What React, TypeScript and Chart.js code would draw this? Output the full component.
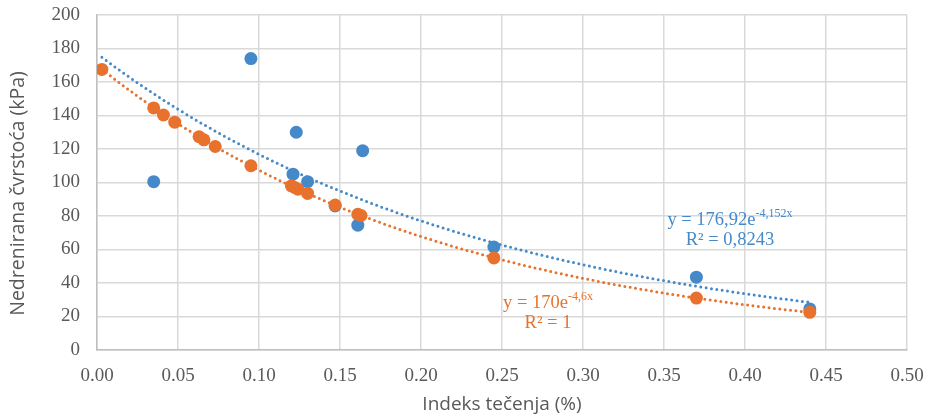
import React, { useEffect, useRef } from "react";
import { Chart, registerables } from "chart.js";

Chart.register(...registerables);

// Series 1 (blue) – measured points
const blueX = [0.035, 0.095, 0.121, 0.123, 0.13, 0.147, 0.161, 0.164, 0.245, 0.37, 0.44];
const blueY = [100.5, 174, 105, 130, 100.5, 86, 74.5, 119, 61.5, 43.5, 24.5];

// Series 2 (orange)
const orangeX = [0.003, 0.035, 0.041, 0.048, 0.063, 0.066, 0.073, 0.095, 0.12, 0.122, 0.124, 0.13, 0.147, 0.161, 0.163, 0.245, 0.37, 0.44];
const orangeY = [167.5, 144.5, 140.3, 136, 127.3, 125.5, 121.5, 110, 98, 97, 96, 93.5, 86.5, 81, 80.3, 55, 31, 22.5];

// Trendline equations (as printed on the chart)
const blueFitA = 176.92;
const blueFitB = -4.152;
const orangeFitA = 170;
const orangeFitB = -4.6;
const trendStart = 0.003;
const trendEnd = 0.44;

const xTicks = [0, 0.05, 0.1, 0.15, 0.2, 0.25, 0.3, 0.35, 0.4, 0.45, 0.5];
const yTicks = [0, 20, 40, 60, 80, 100, 120, 140, 160, 180, 200];

const xTitle = "Indeks tečenja (%)";
const yTitle = "Nedrenirana čvrstoća (kPa)";

const BLUE = "#4589c9";
const ORANGE = "#e8722d";
const AXIS_TEXT = "#595959";

function trend(a: number, b: number) {
  const pts: { x: number; y: number }[] = [];
  const n = 120;
  for (let i = 0; i <= n; i++) {
    const x = trendStart + ((trendEnd - trendStart) * i) / n;
    pts.push({ x, y: a * Math.exp(b * x) });
  }
  return pts;
}

const labels = [
  { color: BLUE, x: 0.3907, y1: 77.6, y2: 65.5, base: "y = 176,92e", sup: "-4,152x", r2: "R² = 0,8243" },
  { color: ORANGE, x: 0.2784, y1: 28, y2: 16, base: "y = 170e", sup: "-4,6x", r2: "R² = 1" },
];

const labelPlugin = {
  id: "eqLabels",
  afterDatasetsDraw(chart: any) {
    const { ctx, scales } = chart;
    ctx.save();
    ctx.textBaseline = "middle";
    for (const l of labels) {
      const cx = scales.x.getPixelForValue(l.x);
      const py1 = scales.y.getPixelForValue(l.y1);
      const py2 = scales.y.getPixelForValue(l.y2);
      ctx.fillStyle = l.color;
      const baseFont = '18.5px "Liberation Serif"';
      const supFont = '12px "Liberation Serif"';
      ctx.font = baseFont;
      const wb = ctx.measureText(l.base).width;
      ctx.font = supFont;
      const ws = ctx.measureText(l.sup).width;
      const start = cx - (wb + ws) / 2;
      ctx.textAlign = "left";
      ctx.font = baseFont;
      ctx.fillText(l.base, start, py1);
      ctx.font = supFont;
      ctx.fillText(l.sup, start + wb, py1 - 6);
      ctx.font = baseFont;
      ctx.textAlign = "center";
      ctx.fillText(l.r2, cx, py2);
    }
    ctx.restore();
  },
  afterDraw(chart: any) {
    const { ctx, chartArea } = chart;
    ctx.save();
    ctx.fillStyle = AXIS_TEXT;
    ctx.textAlign = "center";
    ctx.textBaseline = "middle";
    ctx.font = '19px "Open Sans"';
    ctx.fillText(xTitle, (chartArea.left + chartArea.right) / 2, 405);
    ctx.translate(18, (chartArea.top + chartArea.bottom) / 2 + 11);
    ctx.rotate(-Math.PI / 2);
    ctx.font = '19.5px "Open Sans"';
    ctx.fillText(yTitle, 0, 0);
    ctx.restore();
  },
};

export default function App() {
  const ref = useRef<HTMLCanvasElement | null>(null);
  useEffect(() => {
    document.body.style.margin = "0";
    if (!ref.current) return;
    const chart = new Chart(ref.current, {
      type: "scatter",
      data: {
        datasets: [
          {
            label: "orange",
            data: orangeX.map((x, i) => ({ x, y: orangeY[i] })),
            backgroundColor: ORANGE,
            borderColor: ORANGE,
            pointRadius: 6.5,
            borderWidth: 0,
          },
          {
            label: "blue",
            data: blueX.map((x, i) => ({ x, y: blueY[i] })),
            backgroundColor: BLUE,
            borderColor: BLUE,
            pointRadius: 6.5,
            borderWidth: 0,
          },
          {
            type: "line",
            label: "orangeTrend",
            data: trend(orangeFitA, orangeFitB),
            borderColor: ORANGE,
            borderWidth: 3,
            borderDash: [0, 5.4],
            borderCapStyle: "round",
            pointRadius: 0,
            fill: false,
            tension: 0,
          },
          {
            type: "line",
            label: "blueTrend",
            data: trend(blueFitA, blueFitB),
            borderColor: BLUE,
            borderWidth: 3,
            borderDash: [0, 5.4],
            borderCapStyle: "round",
            pointRadius: 0,
            fill: false,
            tension: 0,
          },
        ] as any,
      },
      options: {
        responsive: false,
        animation: false,
        layout: { padding: { top: 15, right: 24, left: 0, bottom: 0 } },
        plugins: { legend: { display: false }, tooltip: { enabled: false } },
        scales: {
          x: {
            type: "linear",
            min: 0,
            max: 0.5,
            afterBuildTicks: (s: any) => {
              s.ticks = xTicks.map((v) => ({ value: v }));
            },
            afterFit: (s: any) => {
              s.height = 69;
              s.paddingLeft = 0;
              s.paddingRight = 0;
              s.paddingTop = 0;
              s.paddingBottom = 0;
            },
            ticks: {
              callback: (v: any) => Number(v).toFixed(2),
              color: AXIS_TEXT,
              font: { family: "Liberation Serif", size: 19 },
              padding: 15,
              maxRotation: 0,
              autoSkip: false,
            },
            grid: { color: "#d9d9d9", lineWidth: 1.5, drawTicks: false },
            border: { color: "#bfbfbf", width: 1.5 },
            title: { display: false },
          },
          y: {
            type: "linear",
            min: 0,
            max: 200,
            afterBuildTicks: (s: any) => {
              s.ticks = yTicks.map((v) => ({ value: v }));
            },
            afterFit: (s: any) => {
              s.width = 97;
              s.paddingLeft = 0;
              s.paddingRight = 0;
              s.paddingTop = 0;
              s.paddingBottom = 0;
            },
            ticks: {
              color: AXIS_TEXT,
              font: { family: "Liberation Serif", size: 19 },
              padding: 17,
            },
            grid: { color: "#d9d9d9", lineWidth: 1.5, drawTicks: false },
            border: { color: "#bfbfbf", width: 1.5 },
            title: { display: false },
          },
        },
      },
      plugins: [labelPlugin],
    });
    return () => chart.destroy();
  }, []);
  return (
    <div style={{ width: 931, height: 419 }}>
      <canvas ref={ref} width={931} height={419} style={{ display: "block" }} />
    </div>
  );
}
